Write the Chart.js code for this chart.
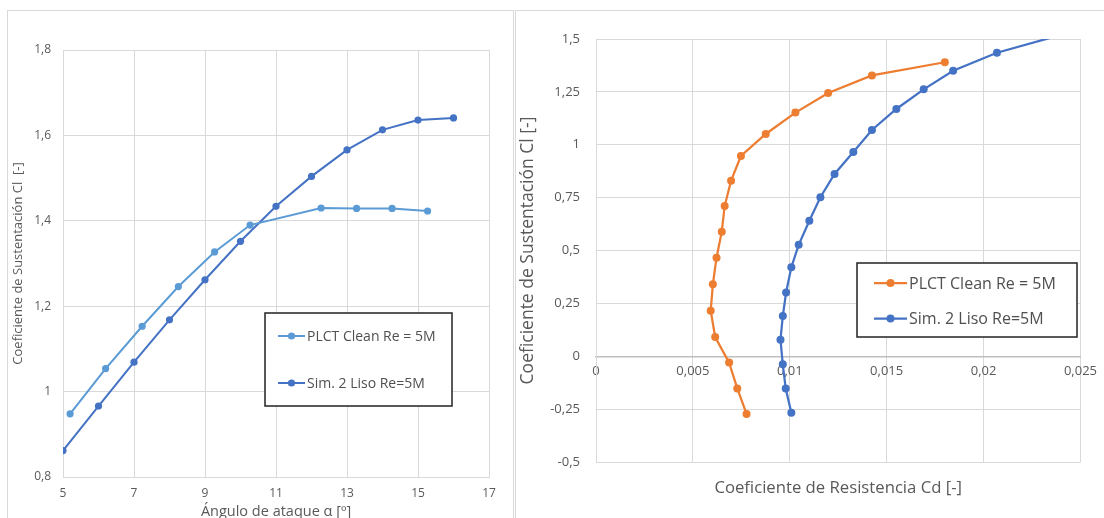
<!DOCTYPE html>
<html><head><meta charset="utf-8">
<script src="https://cdn.jsdelivr.net/npm/chart.js@4"></script>
<style>
html,body{margin:0;padding:0;background:#fff;width:1104px;height:518px;overflow:hidden;}
.panel{position:absolute;border:1px solid #d9d9d9;box-sizing:border-box;background:#fff;overflow:hidden;}
#pl{left:7px;top:10px;width:507px;height:530px;}
#pr{left:515px;top:10px;width:600px;height:530px;}
canvas{position:absolute;left:0;top:0;}
</style></head>
<body>
<div class="panel" id="pl"><canvas id="c1" width="505" height="510" style="width:505px;height:510px"></canvas></div>
<div class="panel" id="pr"><canvas id="c2" width="588" height="507" style="width:588px;height:507px"></canvas></div>
<script>
// ---- Left chart data: Cl vs angle of attack ----
const plctAlpha   = [5.2, 6.2, 7.23, 8.25, 9.27, 10.27, 12.27, 13.27, 14.27, 15.27];
const plctClAlpha = [0.948, 1.054, 1.153, 1.246, 1.327, 1.390, 1.430, 1.429, 1.429, 1.423];
const simAlpha    = [5, 6, 7, 8, 9, 10, 11, 12, 13, 14, 15, 16];
const simClAlpha  = [0.862, 0.966, 1.069, 1.168, 1.262, 1.352, 1.434, 1.504, 1.566, 1.613, 1.636, 1.641];
const leftXTicks  = [5, 7, 9, 11, 13, 15, 17];
const leftYTicks  = [0.8, 1, 1.2, 1.4, 1.6, 1.8];

// ---- Right chart data: Cl vs Cd (polar) ----
const plctCd = [0.00777, 0.00729, 0.00687, 0.00615, 0.00592, 0.00603, 0.00622, 0.00649, 0.00664, 0.00697, 0.00748, 0.00876, 0.01029, 0.01198, 0.01424, 0.01800];
const plctCl = [-0.273, -0.152, -0.030, 0.091, 0.215, 0.340, 0.466, 0.589, 0.710, 0.830, 0.947, 1.051, 1.152, 1.245, 1.328, 1.390];
const simCd  = [0.01008, 0.00979, 0.00964, 0.00952, 0.00964, 0.00981, 0.01008, 0.01046, 0.01101, 0.01158, 0.01231, 0.01328, 0.01424, 0.01550, 0.01691, 0.01843, 0.02069, 0.0248];
const simCl  = [-0.267, -0.153, -0.038, 0.078, 0.190, 0.302, 0.421, 0.527, 0.641, 0.752, 0.862, 0.966, 1.070, 1.169, 1.262, 1.350, 1.435, 1.54];
const rightXTicks = [0, 0.005, 0.01, 0.015, 0.02, 0.025];
const rightYTicks = [-0.5, -0.25, 0, 0.25, 0.5, 0.75, 1, 1.25, 1.5];

const seriesNames = ['PLCT Clean Re = 5M', 'Sim. 2 Liso Re=5M'];
const leftTitles  = ['Ángulo de ataque α [º]', 'Coeficiente de Sustentación Cl  [-]'];
const rightTitles = ['Coeficiente de Resistencia Cd [-]', 'Coeficiente de Sustentación Cl [-]'];

const pts = (xs, ys) => xs.map((x, i) => ({x, y: ys[i]}));
const fmt = v => String(Math.round(v * 100000) / 100000).replace('.', ',');
const setTicks = arr => s => { s.ticks = arr.map(v => ({value: v})); };

Chart.defaults.font.family = "'Open Sans', sans-serif";
Chart.defaults.color = '#595959';
Chart.defaults.animation = false;

const boxLegend = {
  id: 'boxLegend',
  afterDraw(chart, args, o) {
    const ctx = chart.ctx;
    ctx.save();
    ctx.fillStyle = '#ffffff';
    ctx.fillRect(o.x, o.y, o.w, o.h);
    ctx.lineWidth = 1.5;
    ctx.strokeStyle = '#222222';
    ctx.strokeRect(o.x, o.y, o.w, o.h);
    chart.data.datasets.forEach((ds, i) => {
      const y = o.rows[i];
      ctx.strokeStyle = ds.borderColor;
      ctx.lineWidth = ds.borderWidth;
      ctx.beginPath();
      ctx.moveTo(o.lx0, y); ctx.lineTo(o.lx1, y);
      ctx.stroke();
      ctx.fillStyle = ds.backgroundColor;
      ctx.beginPath();
      ctx.arc((o.lx0 + o.lx1) / 2, y, ds.pointRadius, 0, Math.PI * 2);
      ctx.fill();
      ctx.fillStyle = '#505050';
      ctx.font = o.fontSize + "px 'Open Sans', sans-serif";
      ctx.textBaseline = 'middle';
      ctx.textAlign = 'left';
      ctx.fillText(ds.label, o.tx, y + 1);
    });
    ctx.restore();
  }
};

function ds(label, data, color, w, r) {
  return {label, data, borderColor: color, backgroundColor: color, borderWidth: w,
          pointRadius: r, pointBorderWidth: 0, pointHoverRadius: r, showLine: true, tension: 0};
}

new Chart(document.getElementById('c1'), {
  type: 'scatter',
  data: { datasets: [
    ds(seriesNames[0], pts(plctAlpha, plctClAlpha), '#5B9BD5', 2, 3.6),
    ds(seriesNames[1], pts(simAlpha, simClAlpha), '#4472C4', 2, 3.6)
  ]},
  options: {
    responsive: false,
    layout: { padding: { left: 2, top: 39, right: 24, bottom: 0 } },
    plugins: {
      legend: { display: false }, tooltip: { enabled: false },
      boxLegend: { x: 257, y: 302, w: 187, h: 93, rows: [325, 372], lx0: 270, lx1: 297, tx: 299, fontSize: 14 }
    },
    scales: {
      x: {
        type: 'linear', min: 5, max: 17,
        afterBuildTicks: setTicks(leftXTicks),
        afterFit: s => { s.height = 44; },
        grid: { color: '#d9d9d9', drawTicks: false },
        border: { color: '#d9d9d9' },
        ticks: { font: { size: 12 }, padding: 9, callback: fmt, autoSkip: false, maxRotation: 0 },
        title: { display: true, text: leftTitles[0], font: { size: 14.5 }, padding: { top: 0, bottom: 0 } }
      },
      y: {
        type: 'linear', min: 0.8, max: 1.8,
        afterBuildTicks: setTicks(leftYTicks),
        afterFit: s => { s.width = 53; },
        grid: { color: '#d9d9d9', drawTicks: false },
        border: { color: '#d9d9d9' },
        ticks: { font: { size: 12 }, padding: 12, callback: fmt, autoSkip: false },
        title: { display: true, text: leftTitles[1], font: { size: 13 }, padding: { top: 0, bottom: 0 } }
      }
    }
  },
  plugins: [boxLegend]
});

new Chart(document.getElementById('c2'), {
  type: 'scatter',
  data: { datasets: [
    ds(seriesNames[0], pts(plctCd, plctCl), '#ED7D31', 2.25, 4),
    ds(seriesNames[1], pts(simCd, simCl), '#4472C4', 2.25, 4)
  ]},
  options: {
    responsive: false,
    layout: { padding: { left: 2, top: 28, right: 14, bottom: 0 } },
    plugins: {
      legend: { display: false }, tooltip: { enabled: false },
      boxLegend: { x: 341, y: 252, w: 220, h: 74, rows: [272, 307.5], lx0: 358, lx1: 391, tx: 393, fontSize: 16 }
    },
    scales: {
      x: {
        type: 'linear', min: 0, max: 0.025, position: { y: 0 },
        afterBuildTicks: setTicks(rightXTicks),
        grid: { color: '#d9d9d9', drawTicks: false },
        border: { color: '#bfbfbf', width: 1.5 },
        ticks: { font: { size: 13 }, padding: 7, callback: fmt, autoSkip: false, maxRotation: 0 }
      },
      xt: {
        type: 'linear', position: 'bottom', min: 0, max: 1,
        afterFit: s => { s.height = 56; },
        grid: { display: false }, border: { display: false },
        ticks: { display: false },
        title: { display: true, text: rightTitles[0], font: { size: 16.7 }, padding: { top: 0, bottom: 20 } }
      },
      y: {
        type: 'linear', min: -0.5, max: 1.5,
        afterBuildTicks: setTicks(rightYTicks),
        afterFit: s => { s.width = 78; },
        grid: { color: '#d9d9d9', drawTicks: false },
        border: { color: '#d9d9d9' },
        ticks: { font: { size: 13 }, padding: 16, callback: fmt, autoSkip: false },
        title: { display: true, text: rightTitles[1], font: { size: 17.5 }, padding: { top: 0, bottom: 0 } }
      }
    }
  },
  plugins: [boxLegend]
});
</script>
</body></html>
